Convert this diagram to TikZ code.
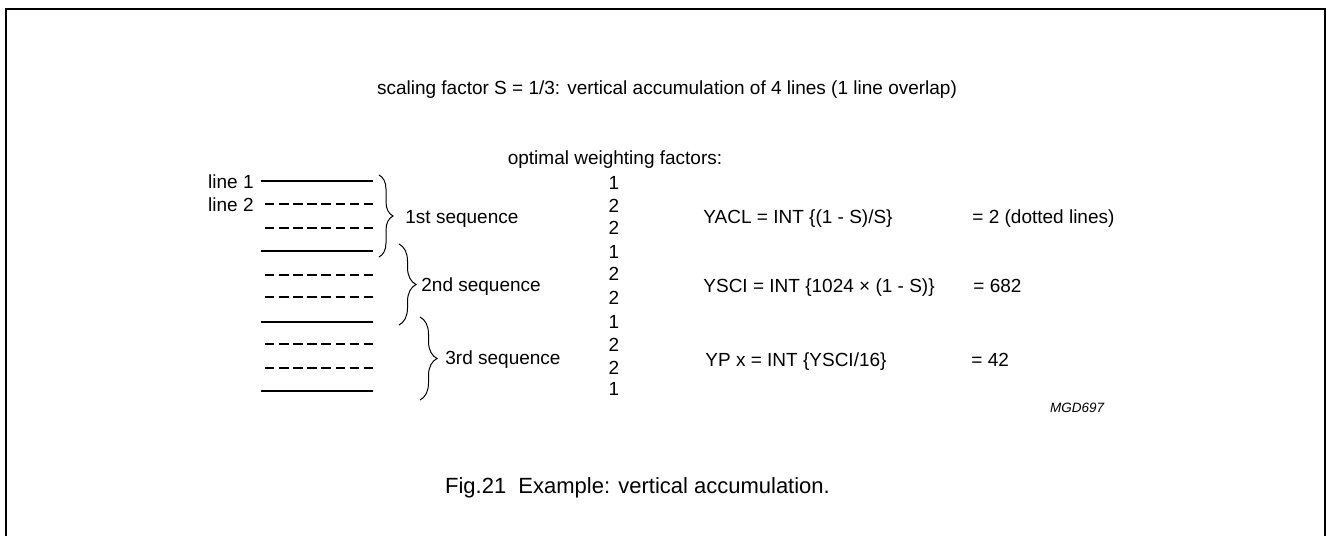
\documentclass[tikz,border=0pt]{standalone}
\usepackage{fontspec}
\setmainfont{Liberation Sans}
\usetikzlibrary{decorations.pathreplacing}
\begin{document}
\begin{tikzpicture}[x=0.5pt, y=-0.5pt,
  txt/.style={inner sep=0pt, font=\fontsize{9.5}{11}\selectfont},
  fullline/.style={line width=0.65pt},
  gapline/.style={line width=0.65pt, dash pattern=on 4.7pt off 2.35pt},
  seqbrace/.style={decorate, decoration={brace, amplitude=#1}, line width=0.5pt}]
\useasboundingbox (0,0) rectangle (1327,536);
\draw [line width=1pt] (5.5,536) -- (5.5,8.5) -- (1325,8.5) -- (1325,536);
\node [txt, anchor=base] (title) at (667,94) {scaling factor S = 1/3: vertical accumulation of 4 lines (1 line overlap)};
\node [txt, anchor=base] (optimal) at (615,164) {optimal weighting factors:};
\node [txt, anchor=base east] (lbl1) at (254,188) {line 1};
\node [txt, anchor=base east] (lbl2) at (254,211) {line 2};
\foreach \n/\y/\x/\s in {1/181/261/fullline, 2/204/265/gapline, 3/228/265/gapline, 4/251/261/fullline,
  5/275/265/gapline, 6/297/265/gapline, 7/322/261/fullline, 8/344/265/gapline, 9/368/265/gapline,
  10/391/261/fullline} {
  \coordinate (ls\n) at (\x,\y);
  \coordinate (le\n) at (373,\y);
  \draw [\s] (ls\n) -- (le\n);
}
\coordinate (b1t) at (379,175);
\coordinate (b1b) at (379,257);
\coordinate (b2t) at (399,244);
\coordinate (b2b) at (399,325);
\coordinate (b3t) at (420,317);
\coordinate (b3b) at (420,400);
\draw [seqbrace=7pt] (b1t) -- (b1b);
\draw [seqbrace=8.5pt] (b2t) -- (b2b);
\draw [seqbrace=8.5pt] (b3t) -- (b3b);
\node [txt, anchor=base west] (seq1) at (405,223) {1st sequence};
\node [txt, anchor=base west] (seq2) at (421,291) {2nd sequence};
\node [txt, anchor=base west] (seq3) at (445,364) {3rd sequence};
\foreach \k/\w/\y in {1/1/189, 2/2/212, 3/2/234, 4/1/258, 5/2/280, 6/2/304, 7/1/328, 8/2/351, 9/2/374, 10/1/395}
  \node [txt, anchor=base] (w\k) at (614,\y) {\w};
\node [txt, anchor=base west] (yacl) at (703,223) {YACL = INT \{(1 - S)/S\}};
\node [txt, anchor=base west] (yaclval) at (972,223) {= 2 (dotted lines)};
\node [txt, anchor=base west] (ysci) at (703,292) {YSCI = INT \{1024 × (1 - S)\}};
\node [txt, anchor=base west] (ysclval) at (973,292) {= 682};
\node [txt, anchor=base west] (ypx) at (705,366) {YP x = INT \{YSCI/16\}};
\node [txt, anchor=base west] (ypxval) at (971,366) {= 42};
\node [txt, anchor=base, font=\fontsize{6.75}{8}\selectfont\itshape] (code) at (1077,412) {MGD697};
\node [txt, anchor=base, font=\fontsize{11}{13}\selectfont] (caption) at (637.5,493) {Fig.21\ \ Example: vertical accumulation.};
\end{tikzpicture}
\end{document}
